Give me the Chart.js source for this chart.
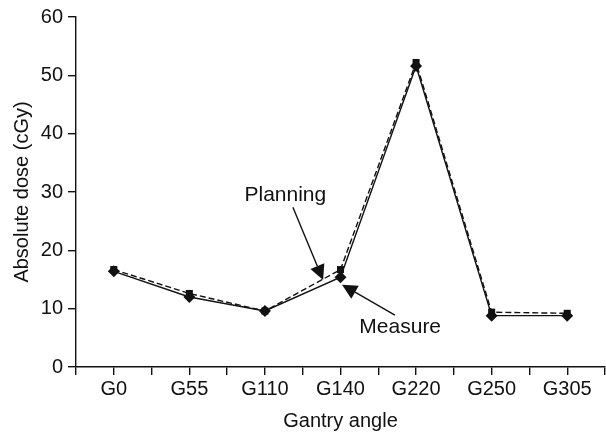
<!DOCTYPE html>
<html>
<head>
<meta charset="utf-8">
<script src="https://cdn.jsdelivr.net/npm/chart.js@4"></script>
<style>
  html, body { margin: 0; padding: 0; background: #fff; overflow: hidden; }
  #wrap { width: 611px; height: 436px; }
</style>
</head>
<body>
<div id="wrap"><canvas id="doseChart"></canvas></div>
<script>
var angles = ['G0', 'G55', 'G110', 'G140', 'G220', 'G250', 'G305'];
var planning = [16.7, 12.6, 9.6, 16.7, 52.2, 9.4, 9.2];
var measure = [16.4, 12.0, 9.6, 15.4, 51.6, 8.8, 8.8];
var yTicks = [0, 10, 20, 30, 40, 50, 60];

// arrows + labels, in data units (x = category index)
var notes = [
  { text: 'Planning', tx: 2.27, ty: 29.4, from: [2.37, 27.4], to: [2.77, 14.9] },
  { text: 'Measure', tx: 3.79, ty: 6.9, from: [3.72, 8.9], to: [3.02, 14.1] }
];

Chart.defaults.font.family = '"Liberation Sans", Arial, sans-serif';
Chart.defaults.font.size = 20;
Chart.defaults.color = '#111';

function toXY(vals) {
  return vals.map(function (v, i) { return { x: i, y: v }; });
}

var arrowPlugin = {
  id: 'arrows',
  afterDatasetsDraw: function (chart) {
    var c = chart.ctx, xs = chart.scales.x, ys = chart.scales.y;
    c.save();
    c.strokeStyle = '#111';
    c.fillStyle = '#111';
    c.lineWidth = 1.4;
    c.font = '21px "Liberation Sans", Arial, sans-serif';
    c.textAlign = 'center';
    c.textBaseline = 'middle';
    notes.forEach(function (n) {
      c.fillText(n.text, xs.getPixelForValue(n.tx), ys.getPixelForValue(n.ty));
      var x1 = xs.getPixelForValue(n.from[0]), y1 = ys.getPixelForValue(n.from[1]);
      var x2 = xs.getPixelForValue(n.to[0]), y2 = ys.getPixelForValue(n.to[1]);
      var a = Math.atan2(y2 - y1, x2 - x1);
      var len = 15, half = 7.5;
      var bx = x2 - len * Math.cos(a), by = y2 - len * Math.sin(a);
      c.beginPath();
      c.moveTo(x1, y1);
      c.lineTo(bx, by);
      c.stroke();
      c.beginPath();
      c.moveTo(x2, y2);
      c.lineTo(bx + half * Math.sin(a), by - half * Math.cos(a));
      c.lineTo(bx - half * Math.sin(a), by + half * Math.cos(a));
      c.closePath();
      c.fill();
    });
    c.restore();
  }
};

var ctx = document.getElementById('doseChart');
var doseChart = new Chart(ctx, {
  type: 'line',
  data: {
    datasets: [
      {
        label: 'Measure',
        data: toXY(measure),
        borderColor: '#111',
        backgroundColor: '#111',
        borderWidth: 1.4,
        pointStyle: 'rectRot',
        pointRadius: 6,
        pointBorderWidth: 0,
        fill: false
      },
      {
        label: 'Planning',
        data: toXY(planning),
        borderColor: '#111',
        backgroundColor: '#111',
        borderWidth: 1.4,
        borderDash: [6, 3],
        pointStyle: 'rect',
        pointRadius: 5,
        pointBorderWidth: 0,
        fill: false
      }
    ]
  },
  options: {
    responsive: true,
    maintainAspectRatio: false,
    animation: false,
    layout: { padding: { top: 5, right: 0, bottom: 0, left: 0 } },
    plugins: { legend: { display: false }, tooltip: { enabled: false } },
    scales: {
      x: {
        type: 'linear',
        min: -0.5,
        max: angles.length - 0.5,
        afterFit: function (s) {
          s.height = 69;
          s.paddingLeft = 0;
          s.paddingRight = 0;
        },
        afterBuildTicks: function (s) {
          var t = [];
          for (var i = 0; i <= angles.length * 2; i++) t.push({ value: -0.5 + i * 0.5 });
          s.ticks = t;
        },
        ticks: {
          autoSkip: false,
          maxRotation: 0,
          padding: 2,
          color: '#111',
          callback: function (v) { return Number.isInteger(v) ? angles[v] : ''; }
        },
        grid: { drawOnChartArea: false, drawTicks: true, tickLength: 8, color: '#111', lineWidth: 1.4 },
        border: { display: true, color: '#111', width: 1.4 },
        title: { display: true, text: 'Gantry angle', color: '#111', padding: { top: 0, bottom: 3 } }
      },
      y: {
        min: 0,
        max: 60,
        afterFit: function (s) { s.width = 76; },
        afterBuildTicks: function (s) {
          s.ticks = yTicks.map(function (v) { return { value: v }; });
        },
        ticks: { padding: 5, color: '#111' },
        grid: { drawOnChartArea: false, drawTicks: true, tickLength: 8, color: '#111', lineWidth: 1.4 },
        border: { display: true, color: '#111', width: 1.4 },
        title: { display: true, text: 'Absolute dose (cGy)', color: '#111', padding: { top: 10, bottom: 0 } }
      }
    }
  },
  plugins: [arrowPlugin]
});
</script>
</body>
</html>
